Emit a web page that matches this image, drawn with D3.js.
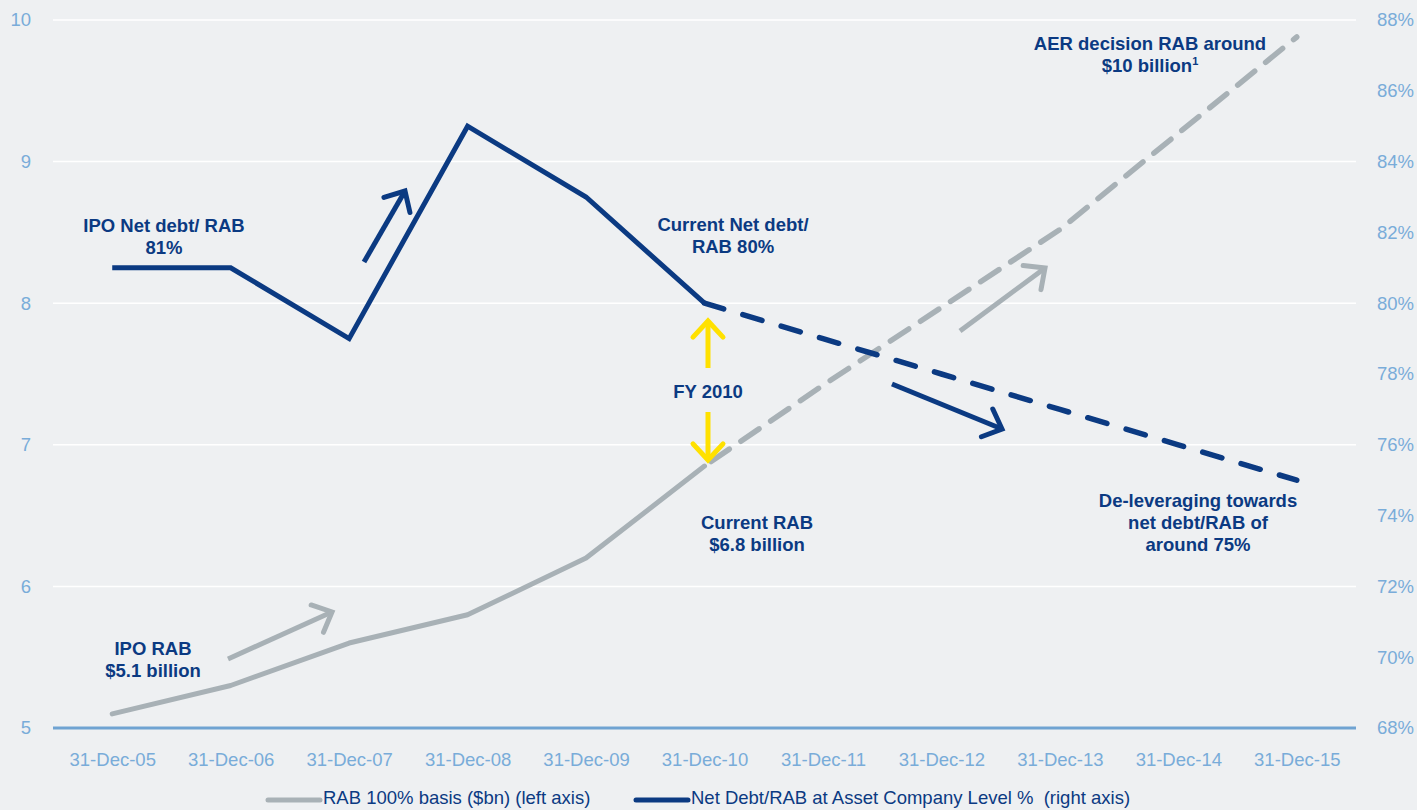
<!DOCTYPE html>
<html><head><meta charset="utf-8">
<script src="https://cdn.jsdelivr.net/npm/d3@7"></script>
<style>
html,body{margin:0;padding:0;background:#eef0f2;}
svg{display:block;font-family:"Liberation Sans",Arial,sans-serif;}
</style></head><body>
<svg id="chart" width="1417" height="810"></svg>
<script>
const categories = ["31-Dec-05","31-Dec-06","31-Dec-07","31-Dec-08","31-Dec-09","31-Dec-10","31-Dec-11","31-Dec-12","31-Dec-13","31-Dec-14","31-Dec-15"];
const rab = [5.1, 5.3, 5.6, 5.8, 6.2, 6.85, 7.42, 7.97, 8.52, 9.2, 9.88];
const netDebt = [81, 81, 79, 85, 83, 80, 79, 78, 77, 76, 75];
const actualCount = 6; // first 6 points actual, rest forecast
const leftTicks = [5, 6, 7, 8, 9, 10];
const rightTicks = [68, 70, 72, 74, 76, 78, 80, 82, 84, 86, 88];
const seriesNames = ["RAB 100% basis ($bn) (left axis)", "Net Debt/RAB at Asset Company Level %  (right axis)"];

const W = 1417, H = 810;
const plot = {l: 53, r: 1356, t: 20, b: 728};
const navy = "#0b3a82", gray = "#a8b1b6", yellow = "#ffe100", tickCol = "#79acd9";
const FS = "18.5px";

const svg = d3.select("#chart");
svg.append("rect").attr("width", W).attr("height", H).attr("fill", "#eef0f2");

const x = d3.scalePoint().domain(categories).range([plot.l, plot.r]).padding(0.5);
const yL = d3.scaleLinear().domain([5, 10]).range([plot.b, plot.t]);
const yR = d3.scaleLinear().domain([68, 88]).range([plot.b, plot.t]);

// gridlines
svg.append("g").selectAll("line").data(leftTicks.filter(d => d > 5)).join("line")
  .attr("x1", plot.l).attr("x2", plot.r)
  .attr("y1", d => yL(d)).attr("y2", d => yL(d))
  .attr("stroke", "#ffffff").attr("stroke-width", 1.5);

// left axis
const axL = svg.append("g").attr("transform", `translate(${plot.l},0)`)
  .call(d3.axisLeft(yL).tickValues(leftTicks).tickSize(0).tickPadding(22).tickFormat(d3.format("d")));
axL.select(".domain").remove();
axL.selectAll("text").attr("fill", tickCol).style("font-size", FS);

// right axis
const axR = svg.append("g").attr("transform", `translate(${plot.r},0)`)
  .call(d3.axisRight(yR).tickValues(rightTicks).tickSize(0).tickPadding(21).tickFormat(d => d + "%"));
axR.select(".domain").remove();
axR.selectAll("text").attr("fill", tickCol).style("font-size", FS);

// bottom axis
const axB = svg.append("g").attr("transform", `translate(0,${plot.b})`)
  .call(d3.axisBottom(x).tickSize(0).tickPadding(25));
axB.select(".domain").remove();
axB.selectAll("text").attr("fill", tickCol).style("font-size", FS);
svg.append("line").attr("x1", plot.l).attr("x2", plot.r).attr("y1", plot.b).attr("y2", plot.b)
  .attr("stroke", "#6fa3d2").attr("stroke-width", 3);

// lines
const idx = categories.map((c, i) => i);
const rabLine = d3.line().x(i => x(categories[i])).y(i => yL(rab[i]));
const ndLine = d3.line().x(i => x(categories[i])).y(i => yR(netDebt[i]));
const act = idx.slice(0, actualCount), fc = idx.slice(actualCount - 1);

svg.append("path").attr("d", rabLine(fc)).attr("fill", "none").attr("stroke", gray)
  .attr("stroke-width", 5.5).attr("stroke-dasharray", "22,14").attr("stroke-linecap", "round").attr("stroke-dashoffset", -8);
svg.append("path").attr("d", rabLine(act)).attr("fill", "none").attr("stroke", gray)
  .attr("stroke-width", 5).attr("stroke-linejoin", "round").attr("stroke-linecap", "round");
svg.append("path").attr("d", ndLine(fc)).attr("fill", "none").attr("stroke", navy)
  .attr("stroke-width", 5.5).attr("stroke-dasharray", "20,20").attr("stroke-linecap", "round");
svg.append("path").attr("d", ndLine(act)).attr("fill", "none").attr("stroke", navy)
  .attr("stroke-width", 5).attr("stroke-linejoin", "miter");

// arrows (annotation)
function arrow(x1, y1, x2, y2, col, w, hl) {
  const a = Math.atan2(y2 - y1, x2 - x1);
  const g = svg.append("g");
  g.append("line").attr("x1", x1).attr("y1", y1).attr("x2", x2 - Math.cos(a) * 2).attr("y2", y2 - Math.sin(a) * 2)
    .attr("stroke", col).attr("stroke-width", w);
  const s = 0.75;
  const p = [[x2 - hl * Math.cos(a - s), y2 - hl * Math.sin(a - s)], [x2, y2], [x2 - hl * Math.cos(a + s), y2 - hl * Math.sin(a + s)]];
  g.append("path").attr("d", d3.line()(p)).attr("fill", "none").attr("stroke", col)
    .attr("stroke-width", w).attr("stroke-linecap", "round").attr("stroke-linejoin", "miter");
}
arrow(364, 262, 405, 191, navy, 5, 22);
arrow(228, 659, 332, 612, gray, 5, 22);
arrow(960, 331, 1045, 268, gray, 5, 22);
arrow(892, 384, 1002, 429, navy, 5, 22);
arrow(708, 368, 708, 321, yellow, 5, 22);
arrow(708, 412, 708, 460, yellow, 5, 22);

// annotation text
function label(cx, y, lines) {
  const t = svg.append("text").attr("x", cx).attr("y", y).attr("text-anchor", "middle")
    .attr("fill", navy).style("font-size", FS).style("font-weight", "bold");
  lines.forEach((l, i) => {
    const ts = t.append("tspan").attr("x", cx).attr("dy", i ? 22 : 0);
    if (typeof l === "string") ts.text(l);
    else { ts.text(l[0]); t.append("tspan").attr("dy", -7).style("font-size", "11px").text(l[1]); }
  });
}
label(164, 232, ["IPO Net debt/ RAB", "81%"]);
label(733, 231, ["Current Net debt/", "RAB 80%"]);
label(708, 398, ["FY 2010"]);
label(757, 529, ["Current RAB", "$6.8 billion"]);
label(153, 655, ["IPO RAB", "$5.1 billion"]);
label(1150, 50, ["AER decision RAB around", ["$10 billion", "1"]]);
label(1198, 507, ["De-leveraging towards", "net debt/RAB of", "around 75%"]);

// legend
const lg = svg.append("g");
lg.append("line").attr("x1", 268).attr("x2", 320).attr("y1", 800).attr("y2", 800).attr("stroke", gray).attr("stroke-width", 5).attr("stroke-linecap", "round");
lg.append("text").attr("x", 323).attr("y", 804).attr("fill", navy).style("font-size", FS).style("white-space", "pre").text(seriesNames[0]);
lg.append("line").attr("x1", 636).attr("x2", 688).attr("y1", 800).attr("y2", 800).attr("stroke", navy).attr("stroke-width", 5).attr("stroke-linecap", "round");
lg.append("text").attr("x", 691).attr("y", 804).attr("fill", navy).style("font-size", FS).style("white-space", "pre").text(seriesNames[1]);
</script></body></html>
